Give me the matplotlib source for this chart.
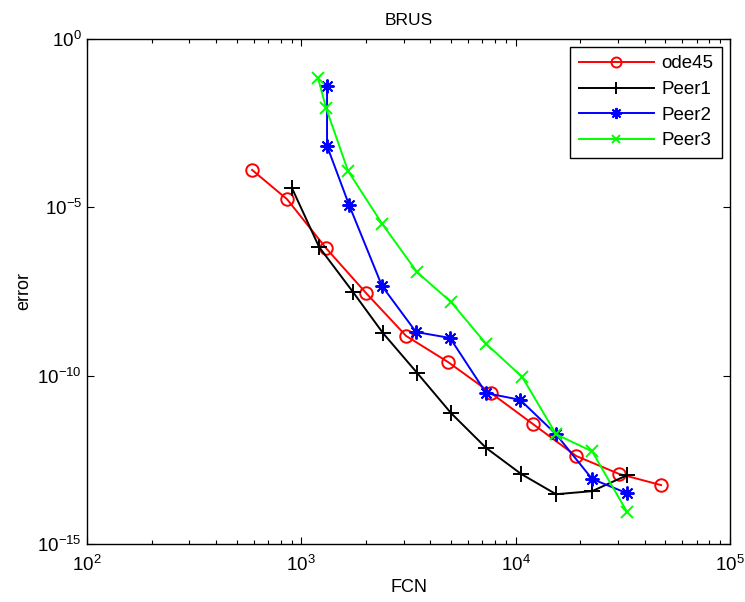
import numpy as np
import matplotlib
matplotlib.use("Agg")
import matplotlib.pyplot as plt

plt.rcParams['font.family'] = ['Liberation Sans', 'DejaVu Sans']
plt.rcParams['mathtext.fontset'] = 'custom'
plt.rcParams['mathtext.rm'] = 'Liberation Sans'
plt.rcParams['mathtext.it'] = 'Liberation Sans:italic'

# data
ode45_fcn = [589, 858, 1304, 2004, 3080, 4840, 7680, 12060, 19140, 30370, 47680]
ode45_err = [1.26e-4, 1.7e-5, 6.0e-7, 2.8e-8, 1.5e-9, 2.5e-10, 3.0e-11, 3.6e-12, 4.1e-13, 1.2e-13, 5.6e-14]

peer1_fcn = [905, 1210, 1742, 2406, 3467, 5000, 7280, 10600, 15440, 22740, 33100]
peer1_err = [3.6e-5, 6.5e-7, 3.0e-8, 1.8e-9, 1.2e-10, 7.6e-12, 7.1e-13, 1.2e-13, 3.0e-14, 3.7e-14, 1.1e-13]

peer2_fcn = [1318, 1318, 1670, 2380, 3430, 4940, 7280, 10490, 15440, 22740, 33100]
peer2_err = [3.9e-2, 6.5e-4, 1.15e-5, 4.5e-8, 1.95e-9, 1.3e-9, 3.0e-11, 1.9e-11, 1.8e-12, 8.5e-14, 3.2e-14]

peer3_fcn = [1197, 1304, 1652, 2380, 3467, 5000, 7280, 10720, 15440, 22740, 33100]
peer3_err = [6.7e-2, 8.7e-3, 1.17e-4, 3.2e-6, 1.17e-7, 1.5e-8, 8.7e-10, 9.1e-11, 1.8e-12, 5.6e-13, 8.9e-15]

fig = plt.figure(figsize=(7.45, 6.02), dpi=100)
ax = fig.add_axes([87 / 745, 1 - 544 / 602, (730 - 87) / 745, (544 - 38.5) / 602])

lw = 1.4
ax.plot(ode45_fcn, ode45_err, color=(1, 0, 0), lw=lw, marker='o', ms=9,
        mfc='none', mew=1.4, label='ode45')
ax.plot(peer1_fcn, peer1_err, color='k', lw=lw, marker='+', ms=11,
        mew=1.4, label='Peer1')
ax.plot(peer2_fcn, peer2_err, color=(0, 0, 1), lw=lw, marker=(8, 2, 0), ms=10,
        mew=1.4, label='Peer2')
ax.plot(peer3_fcn, peer3_err, color=(0, 1, 0), lw=lw, marker='x', ms=8,
        mew=1.4, label='Peer3')

ax.set_xscale('log')
ax.set_yscale('log')
ax.set_xlim(1e2, 1e5)
ax.set_ylim(1e-15, 1e0)
ax.set_yticks([1e-15, 1e-10, 1e-5, 1e0])
ax.yaxis.set_minor_locator(matplotlib.ticker.NullLocator())

ax.tick_params(which='both', direction='in', top=True, right=True, labelsize=13.5)
ax.tick_params(which='major', length=5, width=0.8)
ax.tick_params(which='minor', length=3, width=0.8)
ax.tick_params(axis='x', pad=8)
for s in ax.spines.values():
    s.set_linewidth(1.0)

ax.set_title('BRUS', fontsize=12.5, pad=10)
ax.set_xlabel('FCN', fontsize=13, labelpad=3)
ax.set_ylabel('error', fontsize=13, labelpad=4)

leg = ax.legend(loc='upper right', fontsize=13.5, fancybox=False, framealpha=1,
                edgecolor='k', borderaxespad=0.45, handlelength=4.0,
                labelspacing=0.45, borderpad=0.45, handletextpad=0.4,
                markerscale=0.8)
leg.get_frame().set_linewidth(1.0)

fig.savefig('out.png', dpi=100)
